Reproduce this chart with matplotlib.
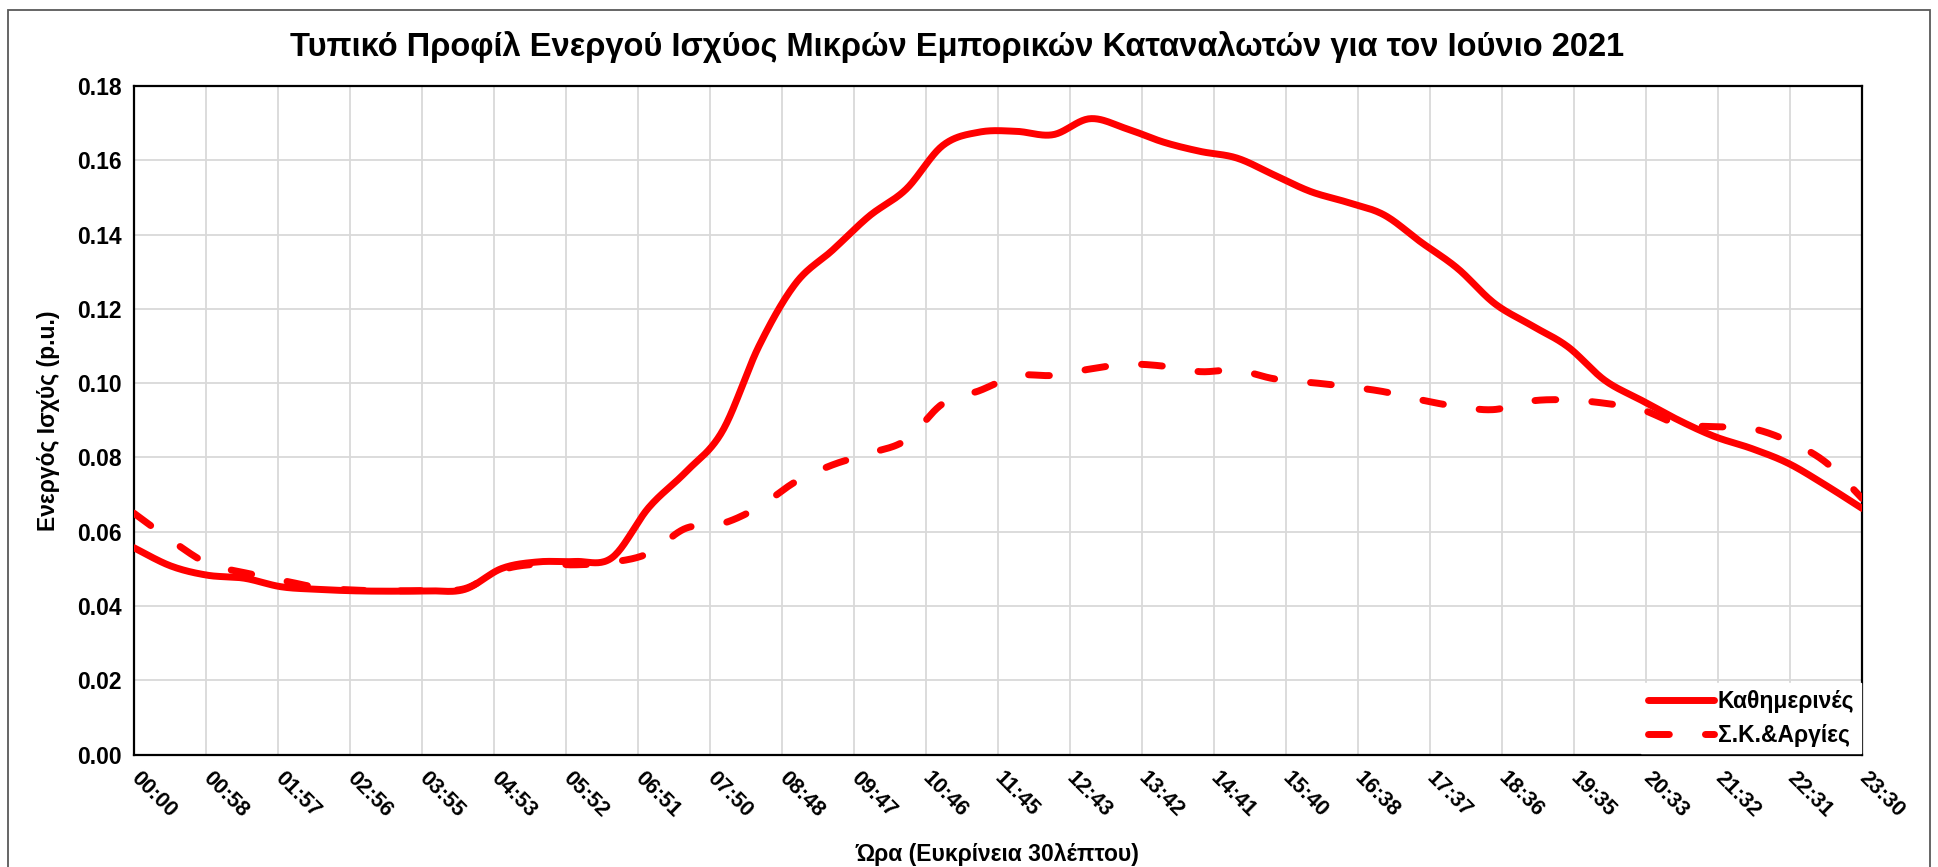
import numpy as np
import matplotlib
matplotlib.use("Agg")
import matplotlib.pyplot as plt
from matplotlib.patches import Rectangle

plt.rcParams['font.family'] = ['Liberation Sans', 'DejaVu Sans']
plt.rcParams['font.weight'] = 'bold'

# Δεδομένα (ανά 30 λεπτά, 00:00 - 23:30)
hours = np.arange(48) * 0.5

weekdays = [0.0557, 0.0508, 0.0483, 0.0475, 0.0452, 0.0445, 0.0441, 0.0440,
            0.0441, 0.0445, 0.0501, 0.0519, 0.0520, 0.0530, 0.0665, 0.0760,
            0.0870, 0.1100, 0.1269, 0.1358, 0.1450, 0.1522, 0.1640, 0.1676,
            0.1678, 0.1669, 0.1712, 0.1685, 0.1649, 0.1624, 0.1606, 0.1561,
            0.1516, 0.1487, 0.1453, 0.1380, 0.1309, 0.1215, 0.1156, 0.1098,
            0.1008, 0.0954, 0.0901, 0.0856, 0.0824, 0.0784, 0.0726, 0.0663]

weekends = [0.0650, 0.0578, 0.0515, 0.0490, 0.0470, 0.0450, 0.0443, 0.0441,
            0.0442, 0.0447, 0.0497, 0.0513, 0.0511, 0.0518, 0.0542, 0.0609,
            0.0622, 0.0667, 0.0735, 0.0780, 0.0811, 0.0847, 0.0945, 0.0980,
            0.1020, 0.1021, 0.1038, 0.1051, 0.1046, 0.1031, 0.1035, 0.1012,
            0.1002, 0.0991, 0.0977, 0.0955, 0.0937, 0.0929, 0.0952, 0.0955,
            0.0946, 0.0929, 0.0890, 0.0883, 0.0878, 0.0844, 0.0788, 0.0690]

tick_labels = ['00:00', '00:58', '01:57', '02:56', '03:55', '04:53', '05:52',
               '06:51', '07:50', '08:48', '09:47', '10:46', '11:45', '12:43',
               '13:42', '14:41', '15:40', '16:38', '17:37', '18:36', '19:35',
               '20:33', '21:32', '22:31', '23:30']

series_names = ['Καθημερινές', 'Σ.Κ.&Αργίες']


def smooth(x, y, n=24):
    # καμπύλη τύπου Catmull-Rom (όπως το "smoothed line" του Excel)
    x = np.asarray(x, float)
    y = np.asarray(y, float)
    px = np.concatenate([[x[0]], x, [x[-1]]])
    py = np.concatenate([[y[0]], y, [y[-1]]])
    xs, ys = [], []
    t = np.linspace(0, 1, n, endpoint=False)
    for i in range(1, len(px) - 2):
        p0, p1, p2, p3 = px[i-1], px[i], px[i+1], px[i+2]
        q0, q1, q2, q3 = py[i-1], py[i], py[i+1], py[i+2]
        c1x, c1y = p1 + (p2 - p0) / 6, q1 + (q2 - q0) / 6
        c2x, c2y = p2 - (p3 - p1) / 6, q2 - (q3 - q1) / 6
        b0 = (1 - t) ** 3
        b1 = 3 * (1 - t) ** 2 * t
        b2 = 3 * (1 - t) * t ** 2
        b3 = t ** 3
        xs.append(b0 * p1 + b1 * c1x + b2 * c2x + b3 * p2)
        ys.append(b0 * q1 + b1 * c1y + b2 * c2y + b3 * q2)
    xs.append([x[-1]])
    ys.append([y[-1]])
    return np.concatenate(xs), np.concatenate(ys)


fig = plt.figure(figsize=(19.38, 8.67), dpi=100)
ax = fig.add_axes([0.0691, 0.1296, 0.8917, 0.7712])

xs, ys = smooth(hours, weekdays)
ax.plot(xs, ys, color='#ff0000', lw=5, solid_capstyle='round',
        label=series_names[0], zorder=4)
xs, ys = smooth(hours, weekends)
ax.plot(xs, ys, color='#ff0000', lw=5, linestyle=(0, (3, 5.2)),
        dash_capstyle='round', label=series_names[1], zorder=3)

ax.set_xlim(0, 23.5)
ax.set_ylim(0, 0.18)
ax.set_xticks(np.linspace(0, 23.5, len(tick_labels)))
ax.set_xticklabels(tick_labels, rotation=-45, ha='left', va='center',
                   rotation_mode='anchor', fontsize=15.5, fontweight='bold')
ax.set_yticks(np.arange(0, 0.181, 0.02))
ax.set_yticklabels([f'{v:.2f}' for v in np.arange(0, 0.181, 0.02)],
                   fontsize=16.5, fontweight='bold')
ax.tick_params(axis='both', length=0, pad=9)
ax.tick_params(axis='x', pad=15)
ax.grid(True, color='#d9d9d9', lw=1.3)
ax.set_axisbelow(True)
for s in ax.spines.values():
    s.set_color('black')
    s.set_linewidth(1.6)

ax.set_xlabel('Ώρα (Ευκρίνεια 30λέπτου)', fontsize=16.5, fontweight='bold',
              labelpad=15)
ax.set_ylabel('Ενεργός Ισχύς (p.u.)', fontsize=16.5, fontweight='bold',
              labelpad=12)

leg = ax.legend(loc='lower right', fontsize=16.5, frameon=True, fancybox=False,
                handlelength=2.9, handletextpad=0.15, borderaxespad=0.05,
                borderpad=0.3, labelspacing=0.45)
leg.get_frame().set_edgecolor('white')
leg.get_frame().set_alpha(1)

fig.text(0.494, 0.946, 'Τυπικό Προφίλ Ενεργού Ισχύος Μικρών Εμπορικών '
         'Καταναλωτών για τον Ιούνιο 2021', ha='center', va='center',
         fontsize=23.5, fontweight='bold')

fig.patches.append(Rectangle((8 / 1938, -0.1), 1922 / 1938, 1.1 - 10 / 867,
                             transform=fig.transFigure, fill=False,
                             edgecolor='#595959', lw=1.3))

fig.savefig('out.png', dpi=100)
